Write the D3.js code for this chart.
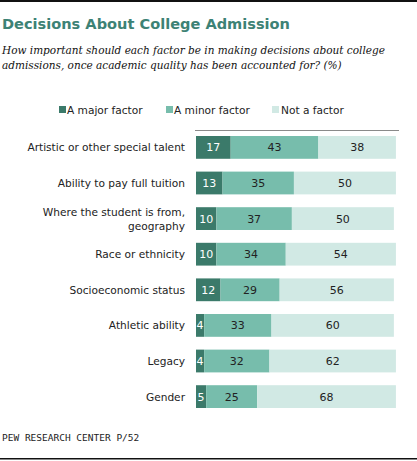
<!DOCTYPE html>
<html>
<head>
  <script src="https://cdnjs.cloudflare.com/ajax/libs/d3/7.8.5/d3.min.js"></script>
  <style>
    body {
      margin: 0;
      background: white;
    }
    .title {
      font-family: Verdana, "DejaVu Sans", sans-serif;
      font-weight: bold;
      font-size: 14.6px;
      fill: #3d8275;
    }
    .subtitle {
      font-family: Georgia, "DejaVu Serif", serif;
      font-style: italic;
      font-size: 10.5px;
      fill: #111;
    }
    .legend text, .cat-label {
      font-family: Verdana, "DejaVu Sans", sans-serif;
      font-size: 10.6px;
      fill: #222;
    }
    .val {
      font-family: Verdana, "DejaVu Sans", sans-serif;
      font-size: 11px;
      text-anchor: middle;
    }
    .source {
      font-family: "DejaVu Sans Mono", monospace;
      font-size: 9.5px;
      fill: #222;
    }
  </style>
</head>
<body>
  <div id="chart"></div>

  <script>
    // Data
    const categories = [
      ["Artistic or other special talent"],
      ["Ability to pay full tuition"],
      ["Where the student is from,", "geography"],
      ["Race or ethnicity"],
      ["Socioeconomic status"],
      ["Athletic ability"],
      ["Legacy"],
      ["Gender"]
    ];
    const majorFactor = [17, 13, 10, 10, 12, 4, 4, 5];
    const minorFactor = [43, 35, 37, 34, 29, 33, 32, 25];
    const notFactor = [38, 50, 50, 54, 56, 60, 62, 68];
    const seriesNames = ["A major factor", "A minor factor", "Not a factor"];
    const colors = ["#3b7a6a", "#77bdac", "#d1e9e4"];
    const textColors = ["#ffffff", "#222222", "#222222"];

    const width = 417;
    const height = 461;

    const svg = d3.select("#chart")
      .append("svg")
      .attr("width", width)
      .attr("height", height);

    // shrink a text so it spans at most w pixels
    function fitWidth(sel, w) {
      const len = sel.node().getComputedTextLength();
      if (len > w) {
        const fs = parseFloat(getComputedStyle(sel.node()).fontSize);
        sel.style("font-size", (fs * w / len) + "px");
      }
    }

    // Frame lines
    svg.append("rect").attr("x", 0).attr("y", 0).attr("width", width).attr("height", 2).attr("fill", "#111");
    svg.append("rect").attr("x", 0).attr("y", 458).attr("width", width).attr("height", 1.5).attr("fill", "#111");

    const title = svg.append("text")
      .attr("class", "title")
      .attr("x", 2)
      .attr("y", 29)
      .text("Decisions About College Admission");
    fitWidth(title, 288);

    const subLines = [
      "How important should each factor be in making decisions about college",
      "admissions, once academic quality has been accounted for? (%)"
    ];
    subLines.forEach((s, i) => {
      const t = svg.append("text")
        .attr("class", "subtitle")
        .attr("x", 2)
        .attr("y", 54 + i * 15)
        .text(s);
      fitWidth(t, i === 0 ? 383 : 340);
    });

    // Legend
    const legendX = [59, 166, 272];
    const legend = svg.append("g").attr("class", "legend");
    seriesNames.forEach((name, i) => {
      legend.append("rect")
        .attr("x", legendX[i]).attr("y", 106)
        .attr("width", 7).attr("height", 7)
        .attr("fill", colors[i]);
      legend.append("text")
        .attr("x", legendX[i] + (i === 2 ? 9 : 8)).attr("y", 113.5)
        .text(name);
    });

    // Scales
    const x = d3.scaleLinear().domain([0, 100]).range([196, 400]);
    const y = d3.scaleBand()
      .domain(d3.range(categories.length))
      .range([136, 408])
      .paddingInner(0.36)
      .paddingOuter(0);

    svg.append("line")
      .attr("x1", 195).attr("x2", 399)
      .attr("y1", 130.5).attr("y2", 130.5)
      .attr("stroke", "#8a8a8a")
      .attr("stroke-width", 1);

    const rows = categories.map((c, i) => ({
      label: c,
      values: [majorFactor[i], minorFactor[i], notFactor[i]]
    }));

    const row = svg.selectAll(".row")
      .data(rows)
      .enter()
      .append("g")
      .attr("class", "row")
      .attr("transform", (d, i) => `translate(0,${y(i)})`);

    row.each(function(d) {
      const g = d3.select(this);
      let start = 0;
      d.values.forEach((v, j) => {
        g.append("rect")
          .attr("x", x(start))
          .attr("y", 0)
          .attr("width", x(start + v) - x(start))
          .attr("height", y.bandwidth())
          .attr("fill", colors[j]);
        g.append("text")
          .attr("class", "val")
          .attr("x", (x(start) + x(start + v)) / 2)
          .attr("y", y.bandwidth() / 2 + 4)
          .attr("fill", textColors[j])
          .text(v);
        start += v;
      });

      const lbl = g.append("text")
        .attr("class", "cat-label")
        .attr("text-anchor", "end");
      const n = d.label.length;
      d.label.forEach((line, k) => {
        lbl.append("tspan")
          .attr("x", 185)
          .attr("y", y.bandwidth() / 2 + 4 + (k - (n - 1) / 2) * 14)
          .text(line);
      });
    });

    svg.append("text")
      .attr("class", "source")
      .attr("x", 2)
      .attr("y", 441)
      .text("PEW RESEARCH CENTER P/52");
  </script>
</body>
</html>
